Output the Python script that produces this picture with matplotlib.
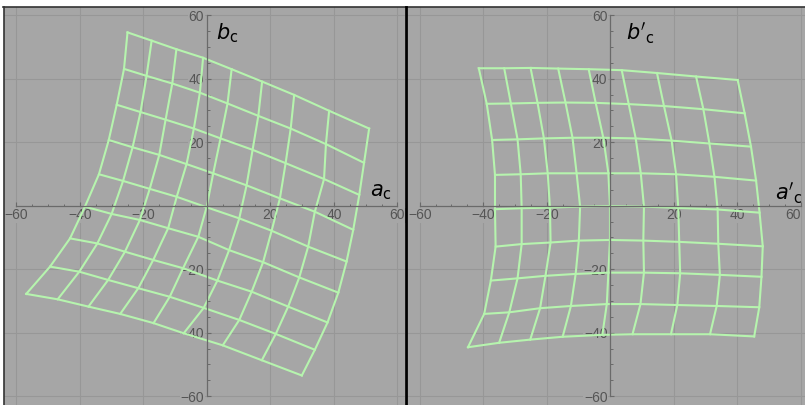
import matplotlib.pyplot as plt
from matplotlib.lines import Line2D
from matplotlib.ticker import MultipleLocator

# Mapped grid nodes (a, b), one list per grid row, top row first
left_a = [
    [-25.0, -17.4, -9.6, -1.2, 7.8, 17.4, 27.5, 38.5, 51.1],
    [-26.1, -19.0, -10.9, -2.2, 6.5, 16.2, 26.4, 37.5, 49.5],
    [-28.4, -20.9, -13.0, -4.1, 4.3, 14.4, 24.8, 36.9, 48.0],
    [-30.9, -23.4, -15.0, -6.4, 2.0, 12.5, 23.0, 34.0, 46.1],
    [-34.0, -26.4, -18.0, -9.5, -0.1, 10.2, 20.4, 31.9, 44.0],
    [-38.4, -30.0, -21.1, -12.2, -2.7, 7.0, 17.7, 29.1, 41.4],
    [-43.1, -34.5, -25.8, -16.9, -7.5, 3.3, 14.1, 25.6, 38.0],
    [-49.4, -40.2, -31.1, -21.6, -11.7, -1.0, 10.2, 21.7, 34.0],
    [-56.9, -47.0, -37.3, -27.3, -16.8, -7.3, 5.0, 17.3, 29.9],
]
left_b = [
    [54.6, 52.0, 49.3, 46.6, 43.0, 39.1, 34.9, 29.9, 24.3],
    [43.1, 40.9, 38.5, 35.6, 32.2, 28.3, 24.3, 19.4, 13.5],
    [31.8, 29.5, 27.1, 24.3, 21.2, 17.6, 13.4, 8.4, 3.4],
    [20.7, 18.4, 16.0, 13.1, 10.2, 6.4, 2.3, -1.9, -7.6],
    [9.9, 7.8, 5.3, 2.8, -0.5, -4.0, -7.9, -12.9, -17.6],
    [-0.3, -2.6, -4.5, -7.1, -9.8, -14.0, -17.8, -22.6, -27.4],
    [-10.3, -11.9, -14.5, -17.1, -19.7, -23.6, -27.1, -31.8, -36.8],
    [-19.2, -20.8, -23.4, -26.0, -28.7, -32.2, -36.0, -40.4, -45.4],
    [-27.8, -29.5, -31.8, -34.1, -37.0, -40.2, -44.0, -48.7, -53.5],
]

right_a = [
    [-41.4, -33.4, -25.1, -16.4, -6.8, 3.6, 14.7, 27.0, 40.1],
    [-38.9, -31.3, -22.9, -14.1, -4.6, 5.8, 16.9, 29.3, 42.3],
    [-37.2, -29.2, -20.9, -11.9, -2.2, 8.0, 19.3, 31.2, 44.3],
    [-36.3, -28.2, -19.7, -10.6, -0.6, 9.6, 20.7, 32.8, 45.9],
    [-36.3, -27.9, -19.0, -9.5, -0.1, 10.6, 21.4, 33.8, 47.0],
    [-36.1, -27.9, -18.8, -9.9, -0.1, 10.4, 21.7, 34.0, 48.0],
    [-37.6, -29.2, -20.4, -10.9, -0.6, 10.6, 22.0, 34.5, 47.6],
    [-39.7, -31.8, -22.1, -12.4, -1.1, 9.5, 21.1, 33.5, 46.9],
    [-44.8, -35.0, -25.2, -15.0, -2.5, 7.0, 19.1, 31.4, 45.3],
]
right_b = [
    [43.3, 43.3, 43.4, 43.2, 43.0, 42.7, 41.8, 40.7, 39.6],
    [32.1, 32.2, 32.4, 32.5, 32.4, 32.0, 31.4, 30.4, 29.1],
    [20.7, 20.9, 21.2, 21.4, 21.4, 21.2, 20.5, 19.6, 18.6],
    [9.7, 9.9, 10.2, 10.2, 10.2, 10.2, 9.9, 9.1, 7.9],
    [-1.1, -0.8, -0.6, -0.3, -0.1, -0.3, -0.7, -1.2, -2.2],
    [-12.9, -12.1, -11.6, -11.0, -10.8, -11.0, -11.4, -12.0, -12.8],
    [-23.6, -22.9, -22.1, -21.5, -21.1, -21.1, -21.3, -21.8, -22.4],
    [-34.1, -33.6, -32.3, -31.6, -31.0, -31.0, -31.3, -31.6, -32.0],
    [-44.6, -43.2, -42.2, -41.3, -40.7, -40.5, -40.5, -40.5, -41.2],
]

major_ticks = [-60, -40, -20, 20, 40, 60]

BG = '#a6a6a6'
GRID = '#979797'
AXIS = '#6a6a6a'
LABEL = '#555555'
MESH = '#b6f4ae'

plt.rcParams['font.family'] = ['Liberation Sans', 'DejaVu Sans']
plt.rcParams['mathtext.fontset'] = 'dejavusans'

W, H = 805, 405
fig = plt.figure(figsize=(W / 100, H / 100), dpi=100, facecolor='white')


def draw_panel(x0, x1, xlim, a, b, xlab, ylab, xlab_pos, ylab_pos):
    ax = fig.add_axes([x0 / W, 0, (x1 - x0) / W, 398 / H])
    ax.set_facecolor(BG)
    ax.set_xlim(*xlim)
    ax.set_ylim(-62.8, 62.6)

    # light grid behind everything
    for v in major_ticks:
        ax.axvline(v, color=GRID, lw=0.8, zorder=0.5)
        ax.axhline(v, color=GRID, lw=0.8, zorder=0.5)

    # axes crossing at the origin
    for side in ['top', 'right']:
        ax.spines[side].set_visible(False)
    for side in ['left', 'bottom']:
        ax.spines[side].set_position(('data', 0))
        ax.spines[side].set_bounds(-60, 60)
        ax.spines[side].set_color(AXIS)
        ax.spines[side].set_linewidth(0.9)

    ax.set_xticks(major_ticks)
    ax.set_yticks(major_ticks)
    ax.xaxis.set_minor_locator(MultipleLocator(5))
    ax.yaxis.set_minor_locator(MultipleLocator(5))
    ax.tick_params(which='major', direction='in', length=3, width=0.8,
                   color=AXIS, labelsize=10, labelcolor=LABEL, pad=2)
    ax.tick_params(which='minor', direction='in', length=1.8, width=0.7,
                   color=AXIS)
    for t in ax.get_xticklabels() + ax.get_yticklabels():
        t.set_bbox(dict(facecolor=BG, edgecolor='none', pad=0.3))

    # the mesh: rows, then columns
    n = len(a)
    for j in range(n):
        ax.plot(a[j], b[j], color=MESH, lw=1.5, zorder=2)
    for i in range(len(a[0])):
        ax.plot([r[i] for r in a], [r[i] for r in b], color=MESH, lw=1.5,
                zorder=2)

    ax.text(*xlab_pos, xlab, fontsize=15, ha='left', va='baseline',
            color='black', clip_on=False)
    ax.text(*ylab_pos, ylab, fontsize=15, ha='left', va='baseline',
            color='black', clip_on=False)
    return ax


draw_panel(4, 405, (-63.9, 62.4), left_a, left_b,
           r'$a_{\mathrm{c}}$', r'$b_{\mathrm{c}}$', (51.4, 3.0), (2.8, 52.3))
ax2 = draw_panel(407, 805, (-64.0, 61.3), right_a, right_b,
                 r"$a'_{\mathrm{c}}$", r"$b'_{\mathrm{c}}$",
                 (52.0, 1.8), (4.9, 52.2))
# keep the last tick label inside the figure edge
ax2.get_xticklabels()[-1].set_horizontalalignment('right')

# frame lines around the two panels
fig.add_artist(Line2D([3 / W, 1], [1 - 6.5 / H] * 2, color='#333333', lw=1.2))
fig.add_artist(Line2D([3.5 / W] * 2, [0, 1 - 6.5 / H], color='#333333', lw=1.2))
fig.add_artist(Line2D([406 / W] * 2, [0, 1 - 6.5 / H], color='black', lw=2))

fig.savefig('out.png', dpi=100, facecolor='white')
